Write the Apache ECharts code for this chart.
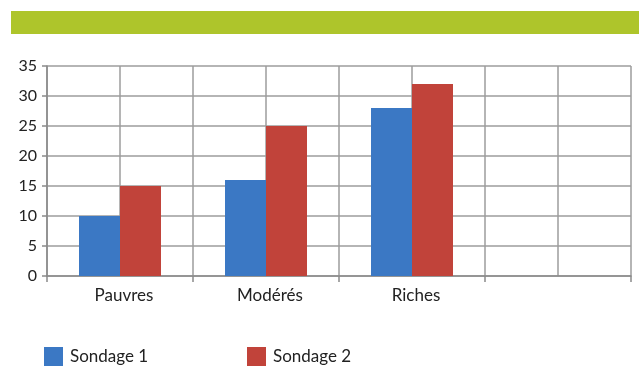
<!DOCTYPE html>
<html>
<head>
<meta charset="utf-8">
<script src="https://cdn.jsdelivr.net/npm/echarts@6/dist/echarts.min.js"></script>
<style>
  html, body { margin: 0; padding: 0; background: #fff; }
  #chart { width: 642px; height: 367px; }
</style>
</head>
<body>
<div id="chart"></div>
<script>
// Survey results by income group
const categories = ['Pauvres', 'Modérés', 'Riches', ''];
const seriesNames = ['Sondage 1', 'Sondage 2'];
const sondage1 = [10, 16, 28, null];
const sondage2 = [15, 25, 32, null];
const yTicks = { min: 0, max: 35, step: 5 };

const FONT = 'Lato, "Open Sans", sans-serif';
const gridColor = '#9c9c9c';
const colors = ['#3b78c4', '#c1433a'];

const chart = echarts.init(document.getElementById('chart'), null, { renderer: 'canvas' });

chart.setOption({
  animation: false,
  textStyle: { fontFamily: FONT },
  graphic: [{
    type: 'rect',
    shape: { x: 11, y: 11, width: 628, height: 23 },
    style: { fill: '#aec52b' },
    silent: true
  }],
  grid: { left: 47, right: 11, top: 66, bottom: 91 },
  legend: [0, 1].map(i => ({
    data: [seriesNames[i]],
    left: i === 0 ? 44 : 247,
    top: 347,
    padding: 0,
    icon: 'rect',
    itemWidth: 19,
    itemHeight: 19,
    textStyle: { fontSize: 17, color: '#222', fontFamily: FONT, padding: [0, 0, 0, 2], lineHeight: 19 }
  })),
  xAxis: [{
    type: 'category',
    data: categories,
    boundaryGap: true,
    axisLine: { lineStyle: { color: '#8a8a8a', width: 1.5 } },
    axisTick: { show: true, length: 6, lineStyle: { color: '#8a8a8a', width: 1.5 } },
    axisLabel: { fontSize: 17, color: '#222', margin: 11, fontFamily: FONT, padding: [0, 0, 0, 8] },
    splitLine: { show: false }
  }, {
    // half-category vertical grid lines
    type: 'value',
    min: 0, max: 8, interval: 1,
    position: 'bottom',
    axisLine: { show: false },
    axisTick: { show: false },
    axisLabel: { show: false },
    splitLine: { show: true, lineStyle: { color: gridColor, width: 1.5 } }
  }],
  yAxis: {
    type: 'value',
    min: yTicks.min, max: yTicks.max, interval: yTicks.step,
    axisLine: { show: true, lineStyle: { color: '#8a8a8a', width: 1.5 } },
    axisTick: { show: true, length: 5, lineStyle: { color: '#8a8a8a', width: 1.5 } },
    axisLabel: { fontSize: 16, color: '#222', margin: 10, fontFamily: FONT },
    splitLine: { show: true, lineStyle: { color: gridColor, width: 1.5 } }
  },
  series: [{
    name: seriesNames[0],
    type: 'bar',
    xAxisIndex: 0,
    data: sondage1,
    barWidth: 41,
    barGap: '0%',
    itemStyle: { color: colors[0] }
  }, {
    name: seriesNames[1],
    type: 'bar',
    xAxisIndex: 0,
    data: sondage2,
    barWidth: 41,
    barGap: '0%',
    itemStyle: { color: colors[1] }
  }]
});
</script>
</body>
</html>
